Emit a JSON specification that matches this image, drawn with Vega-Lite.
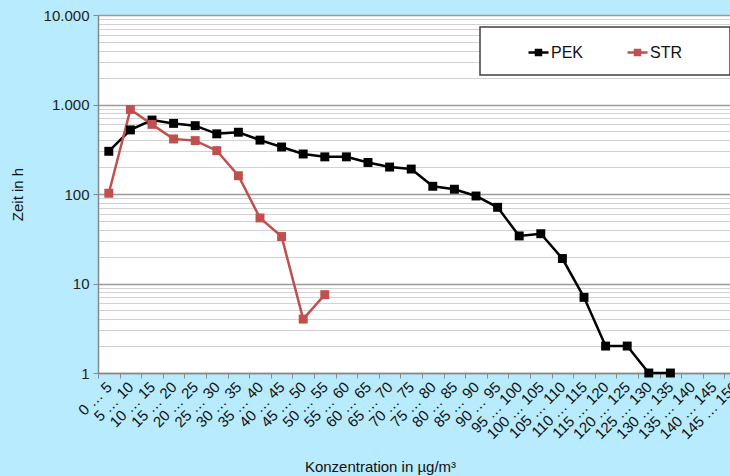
{
  "$schema": "https://vega.github.io/schema/vega-lite/v6.json",
  "width": 648,
  "height": 358,
  "autosize": {"type": "none"},
  "padding": {"left": 98, "top": 15, "right": -16, "bottom": 103},
  "background": "#b7ebfd",
  "config": {
    "view": {"fill": "white", "stroke": null},
    "font": "Liberation Sans"
  },
  "data": {
    "values": [
      {"city": "PEK", "bin": "0 … 5", "h": 300},
      {"city": "PEK", "bin": "5 … 10", "h": 520},
      {"city": "PEK", "bin": "10 … 15", "h": 670},
      {"city": "PEK", "bin": "15 … 20", "h": 615},
      {"city": "PEK", "bin": "20 … 25", "h": 580},
      {"city": "PEK", "bin": "25 … 30", "h": 470},
      {"city": "PEK", "bin": "30 … 35", "h": 490},
      {"city": "PEK", "bin": "35 … 40", "h": 400},
      {"city": "PEK", "bin": "40 … 45", "h": 335},
      {"city": "PEK", "bin": "45 … 50", "h": 280},
      {"city": "PEK", "bin": "50 … 55", "h": 260},
      {"city": "PEK", "bin": "55 … 60", "h": 260},
      {"city": "PEK", "bin": "60 … 65", "h": 225},
      {"city": "PEK", "bin": "65 … 70", "h": 200},
      {"city": "PEK", "bin": "70 … 75", "h": 190},
      {"city": "PEK", "bin": "75 … 80", "h": 122},
      {"city": "PEK", "bin": "80 … 85", "h": 113},
      {"city": "PEK", "bin": "85 … 90", "h": 95},
      {"city": "PEK", "bin": "90 … 95", "h": 71},
      {"city": "PEK", "bin": "95 … 100", "h": 34},
      {"city": "PEK", "bin": "100 … 105", "h": 36},
      {"city": "PEK", "bin": "105 … 110", "h": 19},
      {"city": "PEK", "bin": "110 … 115", "h": 7},
      {"city": "PEK", "bin": "115 … 120", "h": 2},
      {"city": "PEK", "bin": "120 … 125", "h": 2},
      {"city": "PEK", "bin": "125 … 130", "h": 1},
      {"city": "PEK", "bin": "130 … 135", "h": 1},
      {"city": "STR", "bin": "0 … 5", "h": 102},
      {"city": "STR", "bin": "5 … 10", "h": 880},
      {"city": "STR", "bin": "10 … 15", "h": 600},
      {"city": "STR", "bin": "15 … 20", "h": 412},
      {"city": "STR", "bin": "20 … 25", "h": 395},
      {"city": "STR", "bin": "25 … 30", "h": 305},
      {"city": "STR", "bin": "30 … 35", "h": 160},
      {"city": "STR", "bin": "35 … 40", "h": 54},
      {"city": "STR", "bin": "40 … 45", "h": 33.5},
      {"city": "STR", "bin": "45 … 50", "h": 4},
      {"city": "STR", "bin": "50 … 55", "h": 7.5}
    ]
  },
  "encoding": {
    "x": {
      "field": "bin",
      "type": "nominal",
      "scale": {
        "domain": ["0 … 5", "5 … 10", "10 … 15", "15 … 20", "20 … 25", "25 … 30", "30 … 35", "35 … 40", "40 … 45", "45 … 50", "50 … 55", "55 … 60", "60 … 65", "65 … 70", "70 … 75", "75 … 80", "80 … 85", "85 … 90", "90 … 95", "95 … 100", "100 … 105", "105 … 110", "110 … 115", "115 … 120", "120 … 125", "125 … 130", "130 … 135", "135 … 140", "140 … 145", "145 … 150"]
      },
      "axis": {
        "title": "Konzentration  in µg/m³",
        "titleFontSize": 15,
        "titleFontWeight": "normal",
        "titleColor": "#111111",
        "titleX": 282,
        "titleY": 98,
        "titleAlign": "center",
        "titleBaseline": "alphabetic",
        "labelAngle": -45,
        "labelAlign": "right",
        "labelBaseline": "middle",
        "labelFontSize": 15,
        "labelColor": "#111111",
        "labelPadding": 6,
        "tickBand": "extent",
        "tickSize": 5,
        "tickColor": "#888888",
        "domainColor": "#888888",
        "domainWidth": 1.5,
        "grid": false
      }
    },
    "y": {
      "field": "h",
      "type": "quantitative",
      "scale": {"type": "log", "domain": [1, 10000], "nice": false},
      "axis": {
        "title": "Zeit in h",
        "titleFontSize": 15,
        "titleFontWeight": "normal",
        "titleColor": "#111111",
        "titlePadding": 18,
        "values": [1, 2, 3, 4, 5, 6, 7, 8, 9, 10, 20, 30, 40, 50, 60, 70, 80, 90, 100, 200, 300, 400, 500, 600, 700, 800, 900, 1000, 2000, 3000, 4000, 5000, 6000, 7000, 8000, 9000, 10000],
        "labelExpr": "datum.value == 10000 ? '10.000' : datum.value == 1000 ? '1.000' : datum.value == 100 ? '100' : datum.value == 10 ? '10' : datum.value == 1 ? '1' : ''",
        "labelFontSize": 15,
        "labelColor": "#222222",
        "labelPadding": 4,
        "labelOverlap": false,
        "labelFlush": false,
        "tickSize": 5,
        "tickColor": "#888888",
        "tickOpacity": {"condition": {"test": "datum.value == 1 || datum.value == 10 || datum.value == 100 || datum.value == 1000 || datum.value == 10000", "value": 1}, "value": 0},
        "domainColor": "#888888",
        "domainWidth": 1.5,
        "grid": true,
        "gridColor": {"condition": {"test": "datum.value == 1 || datum.value == 10 || datum.value == 100 || datum.value == 1000 || datum.value == 10000", "value": "#9a9a9a"}, "value": "#d2d2d2"},
        "gridWidth": {"condition": {"test": "datum.value == 1 || datum.value == 10 || datum.value == 100 || datum.value == 1000 || datum.value == 10000", "value": 1.5}, "value": 1.2}
      }
    },
    "color": {
      "field": "city",
      "type": "nominal",
      "scale": {"domain": ["PEK", "STR"], "range": ["#000000", "#c0504d"]},
      "legend": {
        "title": "\u00a0",
        "titleOrient": "right",
        "titlePadding": 34,
        "titleFontSize": 4,
        "orient": "none",
        "legendX": 382,
        "legendY": 12,
        "direction": "horizontal",
        "gridAlign": "none",
        "fillColor": "white",
        "strokeColor": "#404040",
        "padding": 14,
        "symbolType": "M-1,0H1M-0.25,-0.25H0.25V0.25H-0.25Z",
        "symbolSize": 400,
        "symbolStrokeWidth": 2.5,
        "symbolOffset": 33,
        "labelFontSize": 16,
        "labelColor": "#111111",
        "labelOffset": 1,
        "columnPadding": 9,
        "encode": {
          "symbols": {
            "update": {
              "fill": {"scale": "color", "field": "value"},
              "stroke": {"scale": "color", "field": "value"},
              "opacity": {"value": 1}
            }
          },
          "legend": {"update": {"strokeWidth": {"value": 1.5}}}
        }
      }
    }
  },
  "layer": [
    {"mark": {"type": "line", "strokeWidth": 2.5}, "encoding": {"order": {"value": null}}},
    {"mark": {"type": "point", "shape": "square", "filled": true, "size": 80, "opacity": 1}}
  ]
}
